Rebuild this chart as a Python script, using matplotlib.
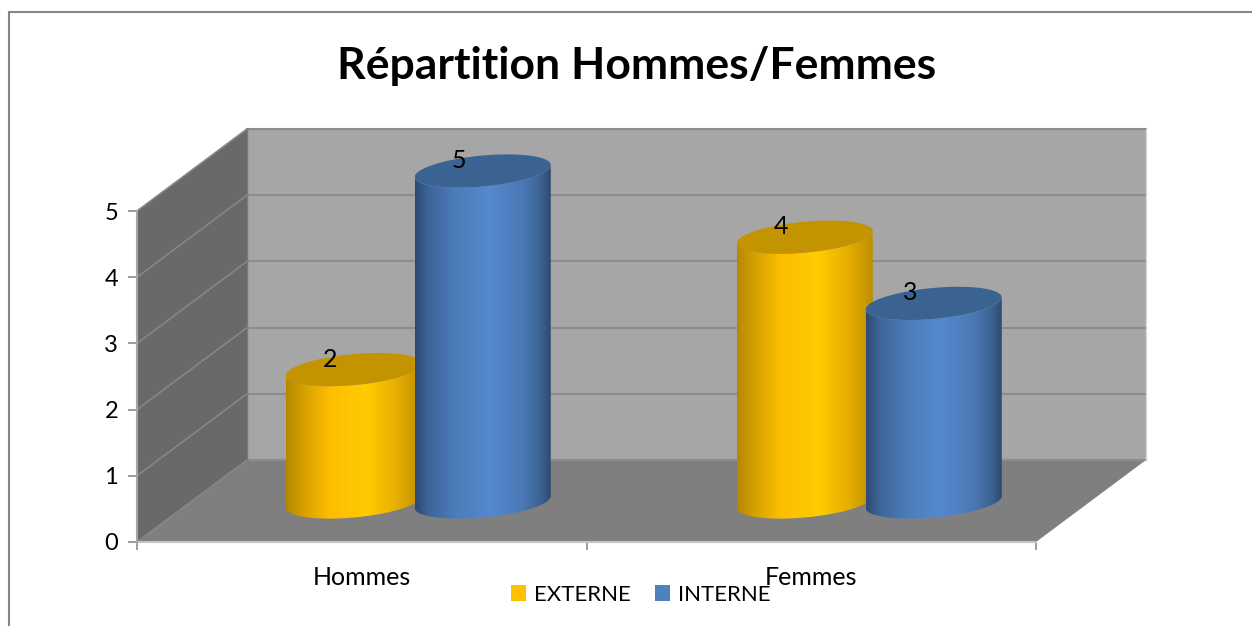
import numpy as np
import matplotlib
matplotlib.use("Agg")
import matplotlib.pyplot as plt
from matplotlib.colors import LinearSegmentedColormap
from matplotlib.patches import Polygon, Rectangle, Patch

plt.rcParams['font.family'] = ['Lato', 'DejaVu Sans']

# donnees du graphique
categories = ['Hommes', 'Femmes']
series_noms = ['EXTERNE', 'INTERNE']
externe = [2, 4]
interne = [5, 3]
y_ticks = [0, 1, 2, 3, 4, 5]

W, H = 1252, 626
fig = plt.figure(figsize=(W / 100, H / 100), dpi=100)
fig.patch.set_facecolor('white')

# cadre exterieur (les bords droit et bas sortent de l'image)
fig.add_artist(Rectangle((9 / W, -0.02), 1.02 - 9 / W, 1.02 - 12 / H, transform=fig.transFigure,
                         fill=False, edgecolor='#868686', linewidth=1.5))

fig.text(637 / W, 1 - 66 / H, 'Répartition Hommes/Femmes', fontsize=32, fontweight='bold',
         ha='center', va='center', color='black')

# axes : 0 -> y=542 px, 5 -> y=211 px, x de 137 a 1036 px
ax = fig.add_axes([137 / W, (H - 542) / H, 899 / W, 331 / H])
ax.set_xlim(0, len(categories))
ax.set_ylim(0, y_ticks[-1])
ax.patch.set_visible(False)
for s in ['top', 'right', 'bottom']:
    ax.spines[s].set_visible(False)
ax.spines['left'].set_color('#a6a6a6')
ax.spines['left'].set_linewidth(1.5)

# profondeur du decor 3D, en unites de donnees
px_x = 449.5
px_y = 66.2
dx = 110 / px_x
dy = 82 / px_y
ymax = y_ticks[-1]
xmax = len(categories)

ax.add_patch(Polygon([(dx, dy), (xmax + dx, dy), (xmax + dx, ymax + dy), (dx, ymax + dy)],
                     closed=True, facecolor='#a6a6a6', edgecolor='none', clip_on=False, zorder=1))
ax.add_patch(Polygon([(0, 0), (dx, dy), (dx, ymax + dy), (0, ymax)],
                     closed=True, facecolor='#696969', edgecolor='none', clip_on=False, zorder=1))
ax.add_patch(Polygon([(0, 0), (xmax, 0), (xmax + dx, dy), (dx, dy)],
                     closed=True, facecolor='#7f7f7f', edgecolor='none', clip_on=False, zorder=1))

for v in y_ticks:
    ax.plot([dx, xmax + dx], [v + dy, v + dy], color='#8c8c8c', lw=1.5, clip_on=False, zorder=2)
    ax.plot([0, dx], [v, v + dy], color='#868686', lw=1.2, clip_on=False, zorder=2)
ax.plot([dx, dx], [dy, ymax + dy], color='#7a7a7a', lw=1, clip_on=False, zorder=2)
ax.plot([xmax + dx, xmax + dx], [dy, ymax + dy], color='#d9d9d9', lw=1, clip_on=False, zorder=2)
ax.plot([0, xmax], [0, 0], color='#c4c4c4', lw=1.5, clip_on=False, zorder=2)

# cylindres
cmap_orange = LinearSegmentedColormap.from_list('o', [(0, '#b58800'), (0.12, '#d39f00'), (0.32, '#fdbe00'),
                                                      (0.6, '#ffcc00'), (0.82, '#e6ae00'), (1, '#bd8e00')])
cmap_bleu = LinearSegmentedColormap.from_list('b', [(0, '#2c4a73'), (0.1, '#3d6699'), (0.3, '#4c7cba'),
                                                    (0.55, '#5588cf'), (0.8, '#4a78b4'), (0.93, '#3a618f'),
                                                    (1, '#2c4a73')])
demi_larg = 68 / px_x
ecart = 64.5 / px_x
decal = 56.5 / px_x
pas = 451 / px_x
base = 40 / px_y
ell_b = 15.5 / px_y
ell_s = 6 / px_y
t = np.linspace(0, 2 * np.pi, 181)


def cylindre(xc, val, cmap, couleur_haut, z):
    haut = base + val
    # contour du corps : bas de l'ellipse puis retour par le haut
    tb = np.linspace(np.pi, 2 * np.pi, 91)
    xb = xc + demi_larg * np.cos(tb)
    yb = base + ell_b * np.sin(tb) + ell_s * np.cos(tb)
    xs = np.r_[xb, xb[::-1]]
    ys = np.r_[yb, yb[::-1] + val]
    corps = Polygon(np.c_[xs, ys], closed=True, facecolor='none', edgecolor='none',
                    transform=ax.transData, zorder=z)
    ax.add_patch(corps)
    grad = np.linspace(0, 1, 256).reshape(1, -1)
    im = ax.imshow(grad, cmap=cmap, aspect='auto', zorder=z, interpolation='bilinear',
                   extent=(xc - demi_larg, xc + demi_larg, base - 1, haut + 1), origin='lower')
    im.set_clip_box(fig.bbox)
    im.set_clip_path(corps)
    xe = xc + demi_larg * np.cos(t)
    ye = haut + ell_b * np.sin(t) + ell_s * np.cos(t)
    ax.fill(xe, ye, color=couleur_haut, zorder=z + 0.1, clip_on=False, lw=0)


for i in range(len(categories)):
    centre = 0.5 + decal + i * pas
    cylindre(centre - ecart, externe[i], cmap_orange, '#c49400', 3 + i)
    cylindre(centre + ecart, interne[i], cmap_bleu, '#3b6391', 3.5 + i)
    ax.text(centre - ecart - 24 / px_x, base + externe[i] + 10.5 / px_y, str(externe[i]),
            ha='center', va='center', fontsize=18, color='black', zorder=8)
    ax.text(centre + ecart - 24 / px_x, base + interne[i] + 10.5 / px_y, str(interne[i]),
            ha='center', va='center', fontsize=18, color='black', zorder=8)

ax.set_xlim(0, xmax)
ax.set_ylim(0, ymax)

ax.set_yticks(y_ticks)
ax.tick_params(axis='y', length=6.5, width=1.2, color='#8c8c8c', labelsize=17, pad=7)
ax.set_xticks([0, 1, 2])
ax.set_xticklabels([])
ax.tick_params(axis='x', which='major', length=6, width=1.2, color='#8c8c8c')
ax.set_xticks([0.5, 1.5], minor=True)
ax.set_xticklabels(categories, minor=True, fontsize=18)
ax.tick_params(axis='x', which='minor', length=0, pad=17)

handles = [Patch(facecolor='#ffc000', label=series_noms[0]), Patch(facecolor='#4f81bd', label=series_noms[1])]
fig.legend(handles=handles, loc='center', bbox_to_anchor=(641 / W, 1 - 595 / H), ncol=2, frameon=False,
           fontsize=16, handlelength=0.68, handleheight=0.7, handletextpad=0.36, columnspacing=1.1,
           borderpad=0, labelspacing=0)

fig.savefig('out.png', dpi=100)
